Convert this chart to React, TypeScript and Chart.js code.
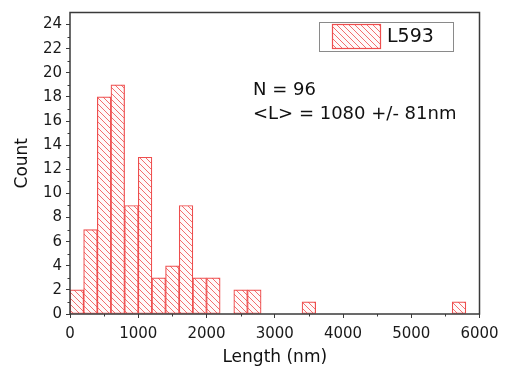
import React, { useEffect, useRef } from "react";
import { Chart, registerables } from "chart.js";

Chart.register(...registerables);

const seriesLabel = "L593";
const binWidth = 200;
const binStarts = [
  0, 200, 400, 600, 800, 1000, 1200, 1400, 1600, 1800, 2000, 2200, 2400, 2600, 2800,
  3000, 3200, 3400, 3600, 3800, 4000, 4200, 4400, 4600, 4800, 5000, 5200, 5400, 5600, 5800,
];
const counts = [
  2, 7, 18, 19, 9, 13, 3, 4, 9, 3, 3, 0, 2, 2, 0,
  0, 0, 1, 0, 0, 0, 0, 0, 0, 0, 0, 0, 0, 1, 0,
];
const xTicks = [0, 1000, 2000, 3000, 4000, 5000, 6000];
const xMinorTicks = [500, 1500, 2500, 3500, 4500, 5500];
const yTicks = [0, 2, 4, 6, 8, 10, 12, 14, 16, 18, 20, 22, 24];
const yMinorTicks = [1, 3, 5, 7, 9, 11, 13, 15, 17, 19, 21, 23];
const annotationLines = ["N = 96", "<L> = 1080 +/- 81nm"];

const RED = "rgb(238, 78, 78)";
const HATCH = "rgb(242, 110, 110)";
const FRAME = "#3a3a3a";
const FONT = "'DejaVu Sans', sans-serif";

function makePattern(): CanvasPattern | string {
  const s = 6;
  const c = document.createElement("canvas");
  c.width = s;
  c.height = s;
  const g = c.getContext("2d");
  if (!g) return "white";
  g.fillStyle = "#fffafa";
  g.fillRect(0, 0, s, s);
  g.strokeStyle = HATCH;
  g.lineWidth = 1;
  g.beginPath();
  g.moveTo(0, 0);
  g.lineTo(s, s);
  g.moveTo(-1, s - 1);
  g.lineTo(1, s + 1);
  g.moveTo(s - 1, -1);
  g.lineTo(s + 1, 1);
  g.stroke();
  const p = g.createPattern(c, "repeat");
  return p || "white";
}

function zeroPad(s: any) {
  s.paddingTop = 0;
  s.paddingBottom = 0;
  s.paddingLeft = 0;
  s.paddingRight = 0;
}

export default function App() {
  const ref = useRef<HTMLCanvasElement | null>(null);

  useEffect(() => {
    if (!ref.current) return;
    const pattern = makePattern();

    const data = binStarts
      .map((b, i) => ({ x: b + binWidth / 2, y: counts[i] }))
      .filter((d) => d.y > 0);

    const decor = {
      id: "decor",
      afterDraw(chart: any) {
        const { ctx, chartArea: a, scales } = chart;
        const xs = scales.x;
        const ys = scales.y;
        ctx.save();
        ctx.strokeStyle = FRAME;
        ctx.lineWidth = 1;
        ctx.beginPath();
        yMinorTicks.forEach((v) => {
          const y = Math.round(ys.getPixelForValue(v)) + 0.5;
          ctx.moveTo(a.left - 2.5, y);
          ctx.lineTo(a.left, y);
        });
        xMinorTicks.forEach((v) => {
          const x = Math.round(xs.getPixelForValue(v)) + 0.5;
          ctx.moveTo(x, a.bottom);
          ctx.lineTo(x, a.bottom + 2.5);
        });
        ctx.stroke();
        ctx.lineWidth = 1.5;
        ctx.strokeStyle = FRAME;
        ctx.strokeRect(a.left, a.top, a.right - a.left, a.bottom - a.top);

        const lx = 311, ly = 14, lw = 134, lh = 29;
        ctx.lineWidth = 1;
        ctx.strokeStyle = "#8a8a8a";
        ctx.fillStyle = "#ffffff";
        ctx.fillRect(lx, ly, lw, lh);
        ctx.strokeRect(lx + 0.5, ly + 0.5, lw, lh);
        ctx.fillStyle = pattern as any;
        ctx.fillRect(324, 16.5, 49, 24);
        ctx.strokeStyle = RED;
        ctx.lineWidth = 1.2;
        ctx.strokeRect(324.5, 16.5, 48, 24);
        ctx.fillStyle = "#111";
        ctx.font = `19px ${FONT}`;
        ctx.textBaseline = "middle";
        ctx.textAlign = "left";
        ctx.fillText(chart.data.datasets[0].label, 379, 29);

        ctx.font = `18px ${FONT}`;
        ctx.textBaseline = "alphabetic";
        annotationLines.forEach((t, i) => {
          ctx.fillText(t, 245, 87 + i * 24);
        });
        ctx.restore();
      },
    };

    const chart = new Chart(ref.current, {
      type: "bar",
      data: {
        datasets: [
          {
            label: seriesLabel,
            data,
            backgroundColor: pattern as any,
            borderColor: RED,
            borderWidth: 1.2,
            borderSkipped: false,
            barPercentage: 1,
            categoryPercentage: 1,
          },
        ],
      },
      options: {
        animation: false,
        responsive: true,
        maintainAspectRatio: false,
        layout: { padding: { top: 4.5, right: 18.5, left: 0, bottom: 0 } },
        plugins: {
          legend: { display: false },
          tooltip: { enabled: false },
        },
        scales: {
          x: {
            type: "linear",
            min: 0,
            max: 6000,
            offset: false,
            afterBuildTicks: (s: any) => {
              s.ticks = xTicks.map((v) => ({ value: v }));
            },
            afterFit: (s: any) => {
              s.height = 57;
              zeroPad(s);
            },
            grid: {
              offset: false,
              drawOnChartArea: false,
              drawTicks: true,
              tickLength: 4,
              color: FRAME,
              lineWidth: 1,
            },
            border: { display: false },
            ticks: {
              color: "#1a1a1a",
              font: { family: FONT, size: 15 },
              padding: 7,
              maxRotation: 0,
              callback: (v: any) => String(v),
            },
            title: {
              display: true,
              text: "Length (nm)",
              color: "#111",
              font: { family: FONT, size: 17 },
              padding: { top: 0, bottom: 3 },
            },
          },
          y: {
            type: "linear",
            min: 0,
            max: 25,
            afterBuildTicks: (s: any) => {
              s.ticks = yTicks.map((v) => ({ value: v }));
            },
            afterFit: (s: any) => {
              s.width = 62;
              zeroPad(s);
            },
            grid: {
              drawOnChartArea: false,
              drawTicks: true,
              tickLength: 4,
              color: FRAME,
              lineWidth: 1,
            },
            border: { display: false },
            ticks: {
              color: "#1a1a1a",
              font: { family: FONT, size: 15 },
              padding: 4,
              callback: (v: any) => String(v),
            },
            title: {
              display: true,
              text: "Count",
              color: "#111",
              font: { family: FONT, size: 17 },
              padding: { top: 4, bottom: 0 },
            },
          },
        },
      },
      plugins: [decor],
    });

    return () => chart.destroy();
  }, []);

  return (
    <div style={{ position: "relative", width: 490, height: 363 }}>
      <canvas ref={ref} />
    </div>
  );
}
